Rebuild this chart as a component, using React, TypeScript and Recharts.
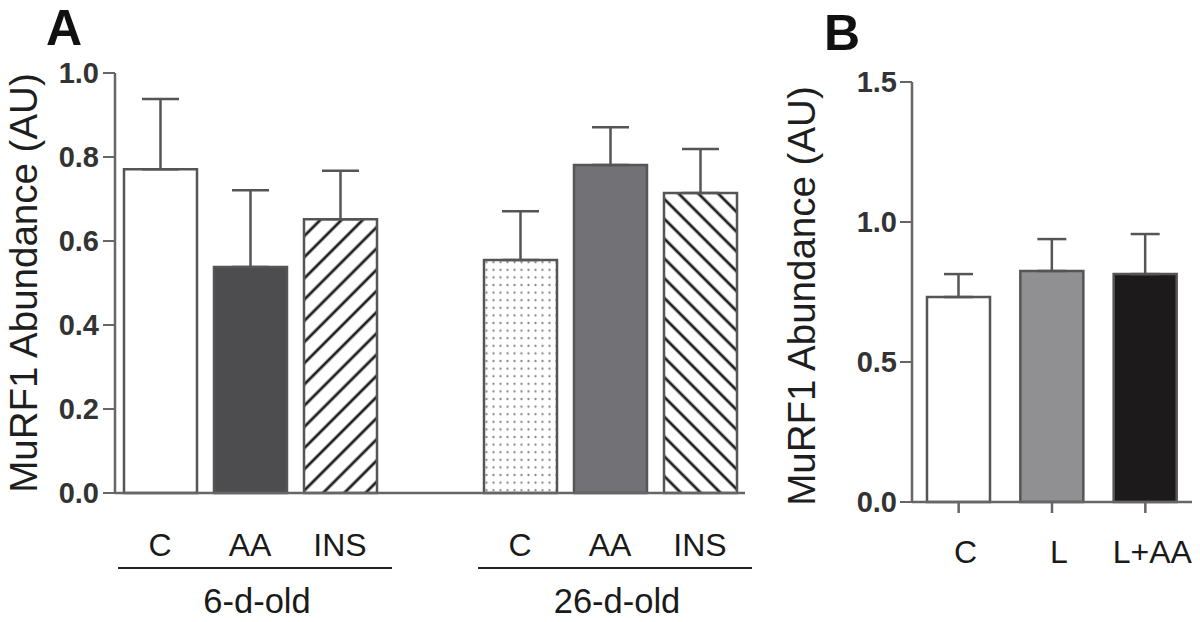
import { BarChart, Bar, XAxis, YAxis, ErrorBar, Cell } from "recharts";

// Panel A: MuRF1 abundance by age group and treatment
const treatmentsA = ["C", "AA", "INS"];
const agesA = ["6-d-old", "26-d-old"];
const meanA6 = [0.771, 0.538, 0.652];
const errA6 = [0.167, 0.183, 0.115];
const meanA26 = [0.555, 0.781, 0.714];
const errA26 = [0.116, 0.09, 0.105];
const ticksA = [0, 0.2, 0.4, 0.6, 0.8, 1.0];

// Panel B
const treatmentsB = ["C", "L", "L+AA"];
const meanB = [0.732, 0.825, 0.814];
const errB = [0.082, 0.114, 0.143];
const ticksB = [0, 0.5, 1.0, 1.5];

const fillsA = ["#ffffff", "#4d4d50", "url(#hatchUp)", "url(#dots)", "#727276", "url(#hatchDown)"];
const fillsB = ["#ffffff", "#909093", "#1c1a1b"];

const FONT = "'Liberation Sans', Arial, sans-serif";
const EDGE = "#555";

type Row = { id: string; label: string; value: number | null; err: number[] | null; group?: string; fill: string };

const dataA: Row[] = [];
[meanA6, meanA26].forEach((means, g) => {
  const errs = g === 0 ? errA6 : errA26;
  if (g > 0) dataA.push({ id: "gap", label: "", value: null, err: null, fill: "none" });
  means.forEach((m, i) => {
    dataA.push({
      id: `${g}-${i}`,
      label: treatmentsA[i],
      value: m,
      err: [0, errs[i]],
      group: i === 1 ? agesA[g] : undefined,
      fill: fillsA[g * 3 + i],
    });
  });
});

const dataB: Row[] = treatmentsB.map((t, i) => ({
  id: t,
  label: t,
  value: meanB[i],
  err: [0, errB[i]],
  fill: fillsB[i],
}));

const TickA = (props: any) => {
  const { x, y, payload } = props;
  const row = dataA.find((d) => d.id === payload.value);
  if (!row || !row.label) return null;
  return (
    <g>
      <text x={x} y={y} dy="0.71em" textAnchor="middle" fontSize={32} fontFamily={FONT} fill="#1a1a1a">
        {row.label}
      </text>
      {row.group && (
        <g>
          <line x1={x - 132} x2={x + 142} y1={y + 35} y2={y + 35} stroke="#222" strokeWidth={2} />
          <text x={x + 7} y={y + 80} textAnchor="middle" fontSize={34.5} fontFamily={FONT} fill="#1a1a1a">
            {row.group}
          </text>
        </g>
      )}
    </g>
  );
};

const TickB = (props: any) => {
  const { x, y, payload } = props;
  return (
    <text x={x + 7} y={y} dy="0.71em" textAnchor="middle" fontSize={32} fontFamily={FONT} fill="#1a1a1a">
      {payload.value}
    </text>
  );
};

const yTitle = (cx: number, cy: number) => () => (
  <text
    transform={`translate(${cx},${cy}) rotate(-90)`}
    textAnchor="middle"
    fontSize={38.5}
    fontFamily={FONT}
    fill="#1e1e1e"
  >
    MuRF1 Abundance (AU)
  </text>
);

const yTick = { fontSize: 29, fontWeight: "bold", fontFamily: FONT, fill: "#333" };

export default function App() {
  return (
    <div style={{ position: "absolute", left: 0, top: 0, width: 1200, height: 622, background: "#fff" }}>
      <svg width={1200} height={622} style={{ position: "absolute", left: 0, top: 0 }}>
        <text x={46} y={45} fontSize={50} fontWeight="bold" fontFamily={FONT} fill="#111">A</text>
        <text x={824} y={50} fontSize={50} fontWeight="bold" fontFamily={FONT} fill="#111">B</text>
      </svg>

      <div style={{ position: "absolute", left: 0, top: 0 }}>
        <BarChart width={760} height={622} data={dataA} margin={{ top: 73, right: 15, bottom: 0, left: 0 }}>
          <defs>
            <pattern id="hatchUp" patternUnits="userSpaceOnUse" width={15} height={15} patternTransform="rotate(45)">
              <rect width={15} height={15} fill="#fff" />
              <line x1={7} y1={0} x2={7} y2={15} stroke="#1e1e1e" strokeWidth={2.8} />
            </pattern>
            <pattern id="hatchDown" patternUnits="userSpaceOnUse" width={14} height={14} patternTransform="rotate(-45)">
              <rect width={14} height={14} fill="#fff" />
              <line x1={7} y1={0} x2={7} y2={14} stroke="#1e1e1e" strokeWidth={2.8} />
            </pattern>
            <pattern id="dots" patternUnits="userSpaceOnUse" width={7} height={7.6}>
              <rect width={7} height={7.6} fill="#fff" />
              <circle cx={3.5} cy={3.8} r={1.15} fill="#8c8c8c" />
            </pattern>
          </defs>
          <XAxis
            dataKey="id"
            height={129}
            interval={0}
            tickLine={false}
            tickSize={0}
            tickMargin={40}
            tick={<TickA />}
            axisLine={{ stroke: "#666", strokeWidth: 2.5 }}
          />
          <YAxis
            width={115}
            domain={[0, 1]}
            ticks={ticksA}
            tickFormatter={(v: number) => v.toFixed(1)}
            tick={yTick}
            tickSize={12}
            tickMargin={4}
            tickLine={{ stroke: "#666", strokeWidth: 2 }}
            axisLine={{ stroke: "#666", strokeWidth: 2.5 }}
            label={{ content: yTitle(37, 283) }}
          />
          <Bar dataKey="value" barSize={73} isAnimationActive={false}>
            {dataA.map((d) => (
              <Cell key={d.id} fill={d.fill} stroke={EDGE} strokeWidth={2.5} />
            ))}
            <ErrorBar dataKey="err" width={18.5} stroke={EDGE} strokeWidth={2.5} direction="y" />
          </Bar>
        </BarChart>
      </div>

      <div style={{ position: "absolute", left: 780, top: 0 }}>
        <BarChart width={420} height={622} data={dataB} margin={{ top: 82, right: 8, bottom: 0, left: 0 }}>
          <XAxis
            dataKey="id"
            height={120}
            interval={0}
            tickSize={11}
            tickMargin={27}
            tick={<TickB />}
            tickLine={{ stroke: "#666", strokeWidth: 2.5 }}
            axisLine={{ stroke: "#666", strokeWidth: 2.5 }}
          />
          <YAxis
            width={132}
            domain={[0, 1.5]}
            ticks={ticksB}
            tickFormatter={(v: number) => v.toFixed(1)}
            tick={yTick}
            tickSize={12}
            tickMargin={3}
            tickLine={{ stroke: "#666", strokeWidth: 2 }}
            axisLine={{ stroke: "#666", strokeWidth: 2.5 }}
            label={{ content: yTitle(35, 296) }}
          />
          <Bar dataKey="value" barSize={63} isAnimationActive={false}>
            {dataB.map((d) => (
              <Cell key={d.id} fill={d.fill} stroke={EDGE} strokeWidth={2.5} />
            ))}
            <ErrorBar dataKey="err" width={14.5} stroke={EDGE} strokeWidth={2.5} direction="y" />
          </Bar>
        </BarChart>
      </div>
    </div>
  );
}
